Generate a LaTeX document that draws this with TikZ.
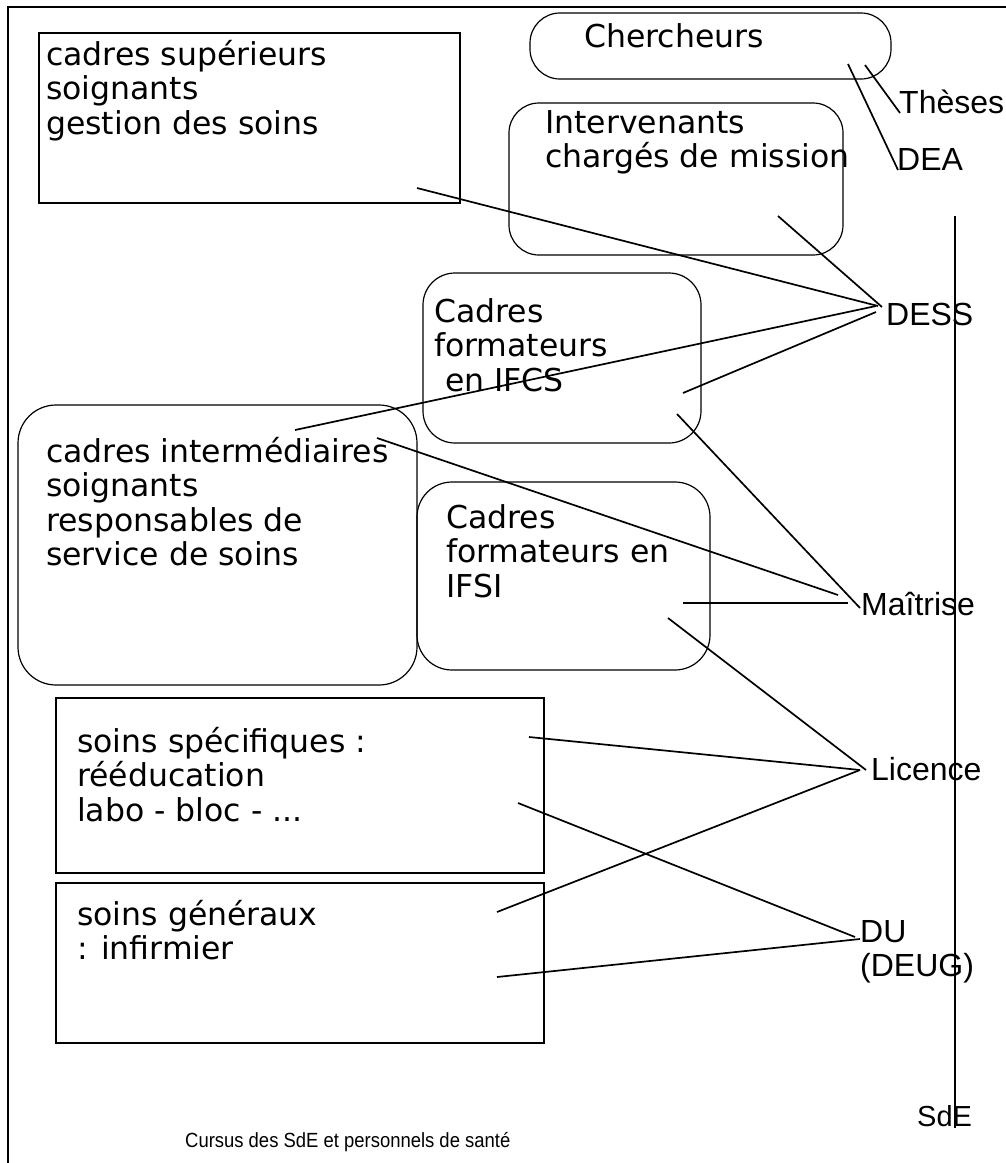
\documentclass[tikz,border=0pt]{standalone}
\usepackage{fontspec}
\newfontfamily\gen{DejaVu Sans}
\newfontfamily\hel{Liberation Sans}
\newfontfamily\capf[FakeStretch=0.9]{Liberation Sans}
\begin{document}
\begin{tikzpicture}[x=1pt,y=-1pt,
  sq/.style={draw,line width=1.2pt,rectangle,inner sep=0pt},
  rd/.style={sq,rounded corners=30pt},
  bt/.style={font=\gen\fontsize{31.5}{34.5}\selectfont,anchor=base west,inner sep=0pt,align=left},
  lb/.style={font=\hel\fontsize{32}{34}\selectfont,anchor=base west,inner sep=0pt,align=left},
  cn/.style={line width=1.7pt}]
\useasboundingbox (0,0) rectangle (1006,1163);
% frame
\draw[line width=1.3pt] (1006,7) -- (8,7) -- (8,1163);
% boxes
\node[sq, minimum width=421pt, minimum height=170pt] (sup) at (249.5,118) {};
\node[rd, minimum width=361pt, minimum height=66pt] (cher) at (710.5,46) {};
\node[rd, minimum width=334pt, minimum height=152pt] (int) at (676,179) {};
\node[rd, rounded corners=32pt, minimum width=278pt, minimum height=170pt] (ifcs) at (562,358) {};
\node[rd, rounded corners=35pt, minimum width=293pt, minimum height=188pt] (ifsi) at (563.5,576) {};
\node[rd, rounded corners=38pt, minimum width=399pt, minimum height=280pt] (inter) at (217.5,545) {};
\node[sq, minimum width=488pt, minimum height=175pt] (spec) at (300,785.5) {};
\node[sq, minimum width=488pt, minimum height=160pt] (gen) at (300,963) {};
% box texts (anchor = baseline of the last line)
\node[bt] (supT) at (46,134) {cadres supérieurs\\soignants\\gestion des soins};
\node[bt] (cherT) at (584,47) {Chercheurs};
\node[bt] (intT) at (545,167.5) {Intervenants\\chargés de mission};
\node[bt] (ifcsT) at (434,391) {Cadres\\formateurs\\\hspace*{11pt}en IFCS};
\node[bt] (ifsiT) at (446,597) {Cadres\\formateurs en\\IFSI};
\node[bt] (interT) at (46,565.5) {cadres intermédiaires\\soignants\\responsables de\\service de soins};
\node[bt] (specT) at (77,821) {soins spécifiques :\\rééducation\\labo - bloc - ...};
\node[bt] (genT) at (77,959.5) {soins généraux\\: infirmier};
% right labels
\node[lb] (th) at (899,113) {Thèses};
\node[lb] (dea) at (897,170) {DEA};
\node[lb] (dess) at (886,325) {DESS};
\node[lb] (mai) at (861,615) {Maîtrise};
\node[lb] (lic) at (871,780) {Licence};
\node[lb] (du) at (860,976) {DU\\(DEUG)};
\node[lb, font=\hel\fontsize{29}{31}\selectfont] (sde) at (917,1126) {SdE};
\node[anchor=base west, inner sep=0pt, font=\capf\fontsize{20.5}{22}\selectfont] (cap) at (185,1147) {Cursus des SdE et personnels de santé};
% axis
\coordinate (axT) at (955,216);
\coordinate (axB) at (955,1128);
\draw[line width=1.3pt] (axT) -- (axB);
% connector end points
\coordinate (c1) at (865,65);  \coordinate (t1) at (900,113);
\coordinate (c2) at (848,64);  \coordinate (d1) at (898,170);
\coordinate (s1) at (417,188); \coordinate (e1) at (878,306);
\coordinate (i1) at (778,216); \coordinate (e2) at (882,307);
\coordinate (m1) at (295,430); \coordinate (e3) at (876,306);
\coordinate (f1) at (683,393); \coordinate (e4) at (876,312);
\coordinate (m2) at (377,438); \coordinate (g1) at (838,595);
\coordinate (f2) at (677,414); \coordinate (g2) at (860,608);
\coordinate (k1) at (683,603); \coordinate (g3) at (848,603);
\coordinate (k2) at (668,618); \coordinate (l1) at (866,770);
\coordinate (p1) at (529,737); \coordinate (l2) at (860,770);
\coordinate (q1) at (497,912); \coordinate (l3) at (860,770);
\coordinate (p2) at (518,803); \coordinate (u1) at (855,937);
\coordinate (q2) at (497,977); \coordinate (u2) at (860,939);
\draw[cn] (c1) -- (t1);
\draw[cn] (c2) -- (d1);
\draw[cn] (s1) -- (e1);
\draw[cn] (i1) -- (e2);
\draw[cn] (m1) -- (e3);
\draw[cn] (f1) -- (e4);
\draw[cn] (m2) -- (g1);
\draw[cn] (f2) -- (g2);
\draw[cn] (k1) -- (g3);
\draw[cn] (k2) -- (l1);
\draw[cn] (p1) -- (l2);
\draw[cn] (q1) -- (l3);
\draw[cn] (p2) -- (u1);
\draw[cn] (q2) -- (u2);
\end{tikzpicture}
\end{document}
